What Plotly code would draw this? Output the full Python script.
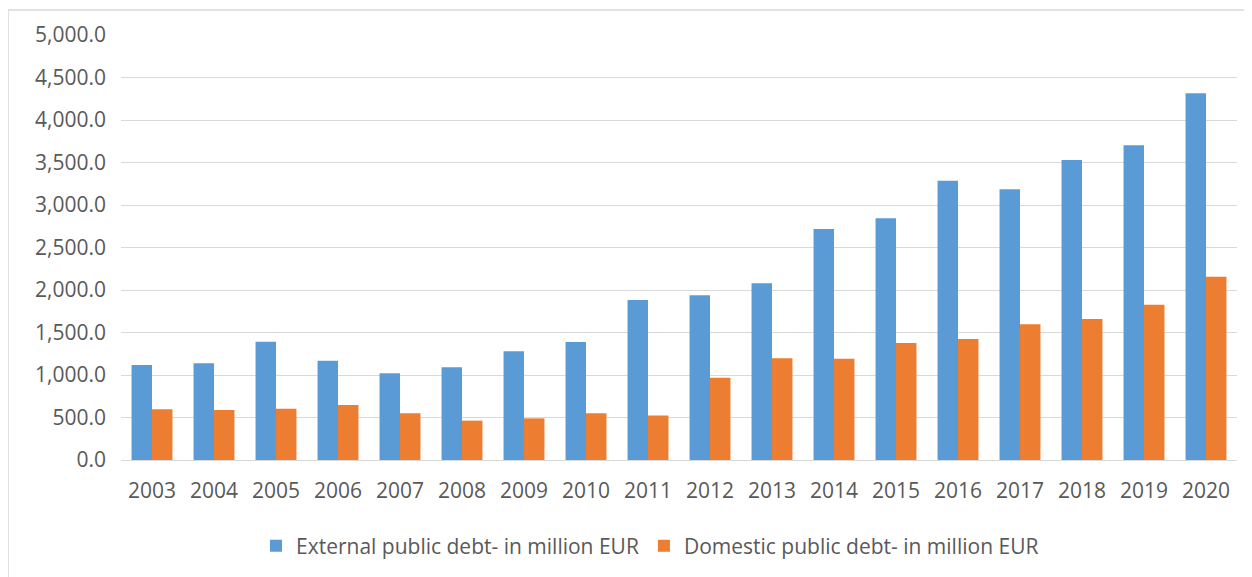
import plotly.graph_objects as go

years = [str(y) for y in range(2003, 2021)]
external_debt = [1118, 1137, 1392, 1168, 1020, 1090, 1278, 1388, 1882, 1937,
                 2078, 2718, 2843, 3286, 3184, 3529, 3702, 4314]
domestic_debt = [596, 588, 604, 647, 549, 463, 490, 549, 525, 969,
                 1196, 1192, 1376, 1424, 1596, 1659, 1827, 2157]
series_names = ["External public debt- in million EUR",
                "Domestic public debt- in million EUR"]

# page has an 8px body margin; figure coordinates are page - 8
OFF = 8
W, H = 1244, 569
L, R, T, B = 121 - OFF, 15, 35 - OFF, 117
pw, ph = W - L - R, H - T - B

def px_x(x):  # page pixel -> paper
    return (x - OFF - L) / pw

def px_y(y):
    return (H - B - (y - OFF)) / ph

fig = go.Figure()
fig.add_trace(go.Bar(x=years, y=external_debt, name=series_names[0],
                     marker=dict(color="#5B9BD5", line=dict(width=0))))
fig.add_trace(go.Bar(x=years, y=domestic_debt, name=series_names[1],
                     marker=dict(color="#ED7D31", line=dict(width=0))))

font_family = "Open Sans, DejaVu Sans, sans-serif"
fig.update_layout(
    width=W, height=H,
    margin=dict(l=L, r=R, t=T, b=B, autoexpand=False),
    paper_bgcolor="white", plot_bgcolor="white",
    barmode="group", bargap=0.34, bargroupgap=0,
    font=dict(family=font_family, color="#595959", size=21),
    showlegend=True,
    legend=dict(orientation="h", x=px_x(650), xanchor="center",
                y=px_y(546), yanchor="middle",
                font=dict(size=21, color="#595959"),
                itemwidth=30, tracegroupgap=0),
    xaxis=dict(showgrid=False, showline=True, linecolor="#d9d9d9",
               linewidth=1, ticks="", tickfont=dict(size=21),
               ticklabelstandoff=12),
    yaxis=dict(range=[0, 5000], dtick=500, tickformat=",.1f",
               showgrid=True, gridcolor="#d9d9d9", gridwidth=1,
               zeroline=False, showline=False, ticks="",
               tickfont=dict(size=21), ticklabelstandoff=14),
    shapes=[
        dict(type="line", xref="paper", yref="paper",
             x0=px_x(8), x1=px_x(8), y0=px_y(600), y1=px_y(10),
             line=dict(color="#d9d9d9", width=1.5)),
        dict(type="line", xref="paper", yref="paper",
             x0=px_x(8), x1=px_x(1260), y0=px_y(10), y1=px_y(10),
             line=dict(color="#d9d9d9", width=1.5)),
    ],
)

fig.write_html("out.html")
